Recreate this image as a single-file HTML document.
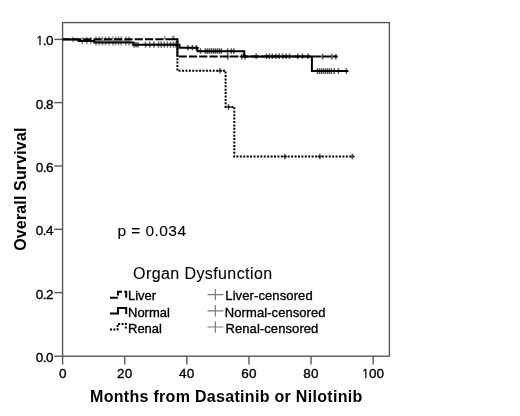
<!DOCTYPE html><html><head><meta charset="utf-8"><title>Overall Survival</title><style>html,body{margin:0;padding:0;background:#fff;}svg{display:block}text{font-family:"Liberation Sans", Arial, sans-serif;fill:#000}</style></head><body>
<svg width="520" height="416" viewBox="0 0 520 416">
<rect width="520" height="416" fill="#fff"/>
<rect x="62.6" y="22.6" width="326.8" height="333.6" fill="none" stroke="#555" stroke-width="1.35"/>
<line x1="54.3" y1="39.4" x2="62.6" y2="39.4" stroke="#555" stroke-width="1.35"/>
<text x="35.7" y="45.45" font-size="13.5" textLength="17.879" lengthAdjust="spacing" stroke="#000" stroke-width="0.35"><tspan font-family="NanumGothic, Liberation Sans, sans-serif" font-size="12.7">1</tspan>.0</text>
<line x1="54.3" y1="102.6" x2="62.6" y2="102.6" stroke="#555" stroke-width="1.35"/>
<text x="35.7" y="108.65" font-size="13.5" textLength="17.879" lengthAdjust="spacing" stroke="#000" stroke-width="0.35">0.8</text>
<line x1="54.3" y1="166.0" x2="62.6" y2="166.0" stroke="#555" stroke-width="1.35"/>
<text x="35.7" y="172.05" font-size="13.5" textLength="17.879" lengthAdjust="spacing" stroke="#000" stroke-width="0.35">0.6</text>
<line x1="54.3" y1="229.3" x2="62.6" y2="229.3" stroke="#555" stroke-width="1.35"/>
<text x="35.7" y="235.35" font-size="13.5" textLength="17.879" lengthAdjust="spacing" stroke="#000" stroke-width="0.35">0.4</text>
<line x1="54.3" y1="292.6" x2="62.6" y2="292.6" stroke="#555" stroke-width="1.35"/>
<text x="35.7" y="298.65" font-size="13.5" textLength="17.879" lengthAdjust="spacing" stroke="#000" stroke-width="0.35">0.2</text>
<line x1="54.3" y1="356.2" x2="62.6" y2="356.2" stroke="#555" stroke-width="1.35"/>
<text x="35.7" y="362.25" font-size="13.5" textLength="17.879" lengthAdjust="spacing" stroke="#000" stroke-width="0.35">0.0</text>
<line x1="62.60" y1="356.2" x2="62.60" y2="364.5" stroke="#555" stroke-width="1.35"/>
<text x="58.9" y="377.8" font-size="13.5" stroke="#000" stroke-width="0.35">0</text>
<line x1="124.72" y1="356.2" x2="124.72" y2="364.5" stroke="#555" stroke-width="1.35"/>
<text x="116.97" y="377.8" font-size="13.5" textLength="15.2" lengthAdjust="spacing" stroke="#000" stroke-width="0.35">20</text>
<line x1="186.84" y1="356.2" x2="186.84" y2="364.5" stroke="#555" stroke-width="1.35"/>
<text x="179.09" y="377.8" font-size="13.5" textLength="15.2" lengthAdjust="spacing" stroke="#000" stroke-width="0.35">40</text>
<line x1="248.96" y1="356.2" x2="248.96" y2="364.5" stroke="#555" stroke-width="1.35"/>
<text x="241.21" y="377.8" font-size="13.5" textLength="15.2" lengthAdjust="spacing" stroke="#000" stroke-width="0.35">60</text>
<line x1="311.08" y1="356.2" x2="311.08" y2="364.5" stroke="#555" stroke-width="1.35"/>
<text x="303.33" y="377.8" font-size="13.5" textLength="15.2" lengthAdjust="spacing" stroke="#000" stroke-width="0.35">80</text>
<line x1="373.20" y1="356.2" x2="373.20" y2="364.5" stroke="#555" stroke-width="1.35"/>
<text x="361.5" y="377.8" font-size="13.5" textLength="22.531" lengthAdjust="spacing" stroke="#000" stroke-width="0.35"><tspan font-family="NanumGothic, Liberation Sans, sans-serif" font-size="12.7">1</tspan>00</text>
<text x="90.0" y="401.6" font-size="16" font-weight="bold" textLength="272.27" lengthAdjust="spacing">Months from Dasatinib or Nilotinib</text>
<text transform="translate(25.8,250.75) rotate(-90)" x="0" y="0" font-size="16" font-weight="bold" textLength="123.146" lengthAdjust="spacing">Overall Survival</text>
<text x="117.5" y="236.0" font-size="15.5" textLength="68.523" lengthAdjust="spacing" stroke="#000" stroke-width="0.1">p = 0.034</text>
<path d="M70.3,39.4H75.10000000000001M72.7,36.8V42.0" stroke="#888" stroke-width="1.5" fill="none"/>
<path d="M79.89999999999999,40.6H84.7M82.3,37.0V44.2" stroke="#888" stroke-width="1.5" fill="none"/>
<path d="M84.5,40.6H89.30000000000001M86.9,37.0V44.2" stroke="#888" stroke-width="1.5" fill="none"/>
<path d="M88.39999999999999,40.6H93.2M90.8,37.0V44.2" stroke="#888" stroke-width="1.5" fill="none"/>
<path d="M93.6,41.0H98.4M96,36.6V45.4" stroke="#888" stroke-width="1.5" fill="none"/>
<path d="M96.89999999999999,41.0H101.7M99.3,36.6V45.4" stroke="#888" stroke-width="1.5" fill="none"/>
<path d="M100.1,41.0H104.9M102.5,36.6V45.4" stroke="#888" stroke-width="1.5" fill="none"/>
<path d="M103.1,41.0H107.9M105.5,36.6V45.4" stroke="#888" stroke-width="1.5" fill="none"/>
<path d="M106.6,41.0H111.4M109,36.6V45.4" stroke="#888" stroke-width="1.5" fill="none"/>
<path d="M110.39999999999999,41.0H115.2M112.8,36.6V45.4" stroke="#888" stroke-width="1.5" fill="none"/>
<path d="M113.1,41.0H117.9M115.5,36.6V45.4" stroke="#888" stroke-width="1.5" fill="none"/>
<path d="M116.1,41.0H120.9M118.5,36.6V45.4" stroke="#888" stroke-width="1.5" fill="none"/>
<path d="M118.8,41.0H123.60000000000001M121.2,36.6V45.4" stroke="#888" stroke-width="1.5" fill="none"/>
<path d="M123.39999999999999,41.0H128.2M125.8,36.6V45.4" stroke="#888" stroke-width="1.5" fill="none"/>
<path d="M126.6,41.0H131.4M129,36.6V45.4" stroke="#888" stroke-width="1.5" fill="none"/>
<path d="M131.6,44.8H136.4M134,42.0V47.599999999999994" stroke="#555" stroke-width="1.5" fill="none"/>
<path d="M133.6,44.8H138.4M136,42.0V47.599999999999994" stroke="#555" stroke-width="1.5" fill="none"/>
<path d="M135.6,44.8H140.4M138,42.0V47.599999999999994" stroke="#555" stroke-width="1.5" fill="none"/>
<path d="M143.1,44.6H147.9M145.5,41.4V47.800000000000004" stroke="#666" stroke-width="1.5" fill="none"/>
<path d="M147.29999999999998,44.6H152.1M149.7,41.4V47.800000000000004" stroke="#666" stroke-width="1.5" fill="none"/>
<path d="M151.5,44.6H156.3M153.9,41.4V47.800000000000004" stroke="#666" stroke-width="1.5" fill="none"/>
<path d="M156.1,44.6H160.9M158.5,41.4V47.800000000000004" stroke="#666" stroke-width="1.5" fill="none"/>
<path d="M158.79999999999998,44.6H163.6M161.2,41.4V47.800000000000004" stroke="#666" stroke-width="1.5" fill="none"/>
<path d="M161.9,44.6H166.70000000000002M164.3,41.4V47.800000000000004" stroke="#666" stroke-width="1.5" fill="none"/>
<path d="M165.0,44.6H169.8M167.4,41.4V47.800000000000004" stroke="#666" stroke-width="1.5" fill="none"/>
<path d="M168.1,44.6H172.9M170.5,41.4V47.800000000000004" stroke="#666" stroke-width="1.5" fill="none"/>
<path d="M171.1,44.6H175.9M173.5,41.4V47.800000000000004" stroke="#666" stroke-width="1.5" fill="none"/>
<path d="M173.6,44.6H178.4M176,41.4V47.800000000000004" stroke="#666" stroke-width="1.5" fill="none"/>
<path d="M164.6,37.6H164.6M164.6,35.800000000000004V39.4" stroke="#888" stroke-width="1.5" fill="none"/>
<path d="M172.7,37.6H172.7M172.7,35.800000000000004V39.4" stroke="#888" stroke-width="1.5" fill="none"/>
<path d="M174,37.6H174M174,35.800000000000004V39.4" stroke="#888" stroke-width="1.5" fill="none"/>
<path d="M185.5,47.8H190.3M187.9,45.0V50.599999999999994" stroke="#555" stroke-width="1.5" fill="none"/>
<path d="M190.0,47.8H194.8M192.4,45.0V50.599999999999994" stroke="#555" stroke-width="1.5" fill="none"/>
<path d="M193.9,47.8H198.70000000000002M196.3,45.0V50.599999999999994" stroke="#555" stroke-width="1.5" fill="none"/>
<path d="M198.2,51.0H203.0M200.6,48.2V53.8" stroke="#555" stroke-width="1.5" fill="none"/>
<path d="M202.9,51.0H207.70000000000002M205.3,48.2V53.8" stroke="#555" stroke-width="1.5" fill="none"/>
<path d="M204.9,51.0H209.70000000000002M207.3,48.2V53.8" stroke="#555" stroke-width="1.5" fill="none"/>
<path d="M206.9,51.0H211.70000000000002M209.3,48.2V53.8" stroke="#555" stroke-width="1.5" fill="none"/>
<path d="M208.9,51.0H213.70000000000002M211.3,48.2V53.8" stroke="#555" stroke-width="1.5" fill="none"/>
<path d="M210.9,51.0H215.70000000000002M213.3,48.2V53.8" stroke="#555" stroke-width="1.5" fill="none"/>
<path d="M212.9,51.0H217.70000000000002M215.3,48.2V53.8" stroke="#555" stroke-width="1.5" fill="none"/>
<path d="M214.9,51.0H219.70000000000002M217.3,48.2V53.8" stroke="#555" stroke-width="1.5" fill="none"/>
<path d="M216.9,51.0H221.70000000000002M219.3,48.2V53.8" stroke="#555" stroke-width="1.5" fill="none"/>
<path d="M218.9,51.0H223.70000000000002M221.3,48.2V53.8" stroke="#555" stroke-width="1.5" fill="none"/>
<path d="M225.2,51.0H230.0M227.6,48.2V53.8" stroke="#555" stroke-width="1.5" fill="none"/>
<path d="M228.9,51.0H233.70000000000002M231.3,48.2V53.8" stroke="#555" stroke-width="1.5" fill="none"/>
<path d="M231.4,51.0H236.20000000000002M233.8,48.2V53.8" stroke="#555" stroke-width="1.5" fill="none"/>
<path d="M225.4,56.6H230.20000000000002M227.8,53.800000000000004V59.4" stroke="#555" stroke-width="1.5" fill="none"/>
<path d="M239.4,56.6H244.20000000000002M241.8,53.800000000000004V59.4" stroke="#555" stroke-width="1.5" fill="none"/>
<path d="M242.6,56.6H247.4M245,53.800000000000004V59.4" stroke="#555" stroke-width="1.5" fill="none"/>
<path d="M253.79999999999998,56.3H258.59999999999997M256.2,53.5V59.099999999999994" stroke="#555" stroke-width="1.5" fill="none"/>
<path d="M264.1,56.3H268.9M266.5,53.5V59.099999999999994" stroke="#555" stroke-width="1.5" fill="none"/>
<path d="M267.0,56.3H271.79999999999995M269.4,53.5V59.099999999999994" stroke="#555" stroke-width="1.5" fill="none"/>
<path d="M269.90000000000003,56.3H274.7M272.3,53.5V59.099999999999994" stroke="#555" stroke-width="1.5" fill="none"/>
<path d="M273.40000000000003,56.3H278.2M275.8,53.5V59.099999999999994" stroke="#555" stroke-width="1.5" fill="none"/>
<path d="M276.8,56.3H281.59999999999997M279.2,53.5V59.099999999999994" stroke="#555" stroke-width="1.5" fill="none"/>
<path d="M280.3,56.3H285.09999999999997M282.7,53.5V59.099999999999994" stroke="#555" stroke-width="1.5" fill="none"/>
<path d="M283.70000000000005,56.3H288.5M286.1,53.5V59.099999999999994" stroke="#555" stroke-width="1.5" fill="none"/>
<path d="M287.20000000000005,56.3H292.0M289.6,53.5V59.099999999999994" stroke="#555" stroke-width="1.5" fill="none"/>
<path d="M295.3,56.3H300.09999999999997M297.7,53.5V59.099999999999994" stroke="#555" stroke-width="1.5" fill="none"/>
<path d="M299.90000000000003,56.3H304.7M302.3,53.5V59.099999999999994" stroke="#555" stroke-width="1.5" fill="none"/>
<path d="M305.6,56.3H310.4M308,53.5V59.099999999999994" stroke="#555" stroke-width="1.5" fill="none"/>
<path d="M320.1,56.6H324.9M322.5,53.800000000000004V59.4" stroke="#555" stroke-width="1.5" fill="none"/>
<path d="M329.5,56.6H334.29999999999995M331.9,53.800000000000004V59.4" stroke="#555" stroke-width="1.5" fill="none"/>
<path d="M333.5,56.6H338.29999999999995M335.9,53.800000000000004V59.4" stroke="#555" stroke-width="1.5" fill="none"/>
<path d="M315.1,71.1H319.9M317.5,68.3V73.89999999999999" stroke="#555" stroke-width="1.5" fill="none"/>
<path d="M317.1,71.1H321.9M319.5,68.3V73.89999999999999" stroke="#555" stroke-width="1.5" fill="none"/>
<path d="M319.1,71.1H323.9M321.5,68.3V73.89999999999999" stroke="#555" stroke-width="1.5" fill="none"/>
<path d="M321.1,71.1H325.9M323.5,68.3V73.89999999999999" stroke="#555" stroke-width="1.5" fill="none"/>
<path d="M323.1,71.1H327.9M325.5,68.3V73.89999999999999" stroke="#555" stroke-width="1.5" fill="none"/>
<path d="M325.1,71.1H329.9M327.5,68.3V73.89999999999999" stroke="#555" stroke-width="1.5" fill="none"/>
<path d="M327.1,71.1H331.9M329.5,68.3V73.89999999999999" stroke="#555" stroke-width="1.5" fill="none"/>
<path d="M329.1,71.1H333.9M331.5,68.3V73.89999999999999" stroke="#555" stroke-width="1.5" fill="none"/>
<path d="M331.90000000000003,71.1H336.7M334.3,68.3V73.89999999999999" stroke="#555" stroke-width="1.5" fill="none"/>
<path d="M336.0,71.1H340.79999999999995M338.4,68.3V73.89999999999999" stroke="#555" stroke-width="1.5" fill="none"/>
<path d="M344.0,71.1H348.79999999999995M346.4,68.3V73.89999999999999" stroke="#555" stroke-width="1.5" fill="none"/>
<path d="M217.5,70.7H222.3M219.9,67.9V73.5" stroke="#555" stroke-width="1.5" fill="none"/>
<path d="M226.1,106.9H230.9M228.5,104.10000000000001V109.7" stroke="#555" stroke-width="1.5" fill="none"/>
<path d="M282.5,156.5H287.29999999999995M284.9,153.7V159.3" stroke="#555" stroke-width="1.5" fill="none"/>
<path d="M317.40000000000003,156.5H322.2M319.8,153.7V159.3" stroke="#555" stroke-width="1.5" fill="none"/>
<path d="M350.0,156.5H354.79999999999995M352.4,153.7V159.3" stroke="#555" stroke-width="1.5" fill="none"/>
<path d="M177.4,39.4 V70.7 H225.6 V106.9 H234.3 V156.5 H353.5" fill="none" stroke="#000" stroke-width="2" stroke-dasharray="2,1.42" stroke-dashoffset="1.74"/>
<path d="M62.6,39.3 H166" fill="none" stroke="#000" stroke-width="2" stroke-dasharray="8.2,2.1" stroke-dashoffset="0"/>
<path d="M165.6,39.3 H177.4 V56.6" fill="none" stroke="#000" stroke-width="2"/>
<path d="M177.4,56.6 H337" fill="none" stroke="#000" stroke-width="2" stroke-dasharray="8.2,2.1" stroke-dashoffset="9.1"/>
<path d="M62.6,39.4 H78.5 V40.9 H94.2 V42.5 H133.5 V44.8 H179.5 V47.8 H197.5 V51.2 H244.2 V56.4 H311.9 V71.1 H348" fill="none" stroke="#000" stroke-width="2"/>
<text x="133.05" y="278.7" font-size="16" textLength="139.064" lengthAdjust="spacing" stroke="#000" stroke-width="0.1">Organ Dysfunction</text>
<text x="128.0" y="300.4" font-size="13" stroke="#000" stroke-width="0.35">Liver</text>
<text x="225.3" y="300.4" font-size="13" textLength="87.346" lengthAdjust="spacing" stroke="#000" stroke-width="0.35">Liver-censored</text>
<path d="M207.5,294.6H223.4M215.4,288.9V300.3" stroke="#7a7a7a" stroke-width="1.15" fill="none"/>
<text x="128.0" y="316.6" font-size="13" stroke="#000" stroke-width="0.35">Normal</text>
<text x="224.8" y="316.6" font-size="13" textLength="100.775" lengthAdjust="spacing" stroke="#000" stroke-width="0.35">Normal-censored</text>
<path d="M207.5,310.8H223.4M215.4,305.1V316.5" stroke="#7a7a7a" stroke-width="1.15" fill="none"/>
<text x="128.0" y="332.7" font-size="13" stroke="#000" stroke-width="0.35">Renal</text>
<text x="225.5" y="332.7" font-size="13" textLength="92.858" lengthAdjust="spacing" stroke="#000" stroke-width="0.35">Renal-censored</text>
<path d="M207.5,327.0H223.4M215.4,321.3V332.7" stroke="#7a7a7a" stroke-width="1.15" fill="none"/>
<path d="M110,297.7H118V291.8H126.2V297.7" fill="none" stroke="#000" stroke-width="2" stroke-dasharray="7.8,2.3"/>
<path d="M110,313.6H118V308H126.2V314" fill="none" stroke="#000" stroke-width="2"/>
<path d="M110,329.5H117.6V324H125.8V330" fill="none" stroke="#000" stroke-width="2" stroke-dasharray="2,1.4"/>
</svg></body></html>
